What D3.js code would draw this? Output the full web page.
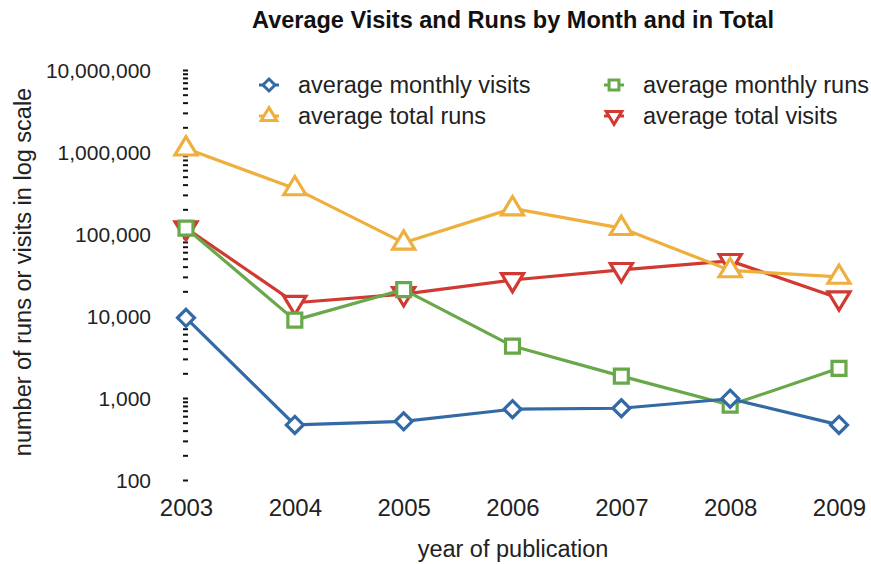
<!DOCTYPE html>
<html>
<head>
<meta charset="utf-8">
<script src="https://cdn.jsdelivr.net/npm/d3@7"></script>
<style>
  html, body { margin: 0; padding: 0; background: #fff; }
  svg { display: block; font-family: "Liberation Sans", Arial, Helvetica, sans-serif; }
</style>
</head>
<body>
<svg id="chart" width="871" height="564"></svg>
<script>
// Years of publication
const years = [2003, 2004, 2005, 2006, 2007, 2008, 2009];

// Series values per year
const monthlyVisits = [9500, 470, 520, 730, 750, 980, 470];
const monthlyRuns   = [118000, 8900, 21000, 4300, 1850, 820, 2300];
const totalRuns     = [1100000, 360000, 78000, 205000, 118000, 36000, 30000];
const totalVisits   = [118000, 14500, 18500, 27500, 36500, 47000, 16500];

// Major tick values on the log axis
const majorTicks = [100, 1000, 10000, 100000, 1000000, 10000000];

const titleText = "Average Visits and Runs by Month and in Total";
const xTitle = "year of publication";
const yTitle = "number of runs or visits in log scale";

// Series definitions in legend order
const series = [
  { name: "average monthly visits", values: monthlyVisits, color: "#336aa6", shape: "diamond" },
  { name: "average monthly runs",   values: monthlyRuns,   color: "#68a84a", shape: "square" },
  { name: "average total runs",     values: totalRuns,     color: "#eeaf3c", shape: "triUp" },
  { name: "average total visits",   values: totalVisits,   color: "#d03a32", shape: "triDown" }
];

const svg = d3.select("#chart");

const x = d3.scaleLinear().domain([2003, 2009]).range([186, 839]);
const y = d3.scaleLog().domain([100, 10000000]).range([480, 70]);

// Marker path generator, centred on origin
function markerPath(shape, s) {
  if (shape === "diamond") {
    return `M0,${-s}L${s},0L0,${s}L${-s},0Z`;
  } else if (shape === "square") {
    const h = s * 0.82;
    return `M${-h},${-h}H${h}V${h}H${-h}Z`;
  } else if (shape === "triUp") {
    const w = s * 1.3, hTop = s * 1.4, hBot = s * 0.75;
    return `M0,${-hTop}L${w},${hBot}L${-w},${hBot}Z`;
  } else {
    const w = s * 1.3, hTop = s * 1.4, hBot = s * 0.75;
    return `M0,${hTop}L${w},${-hBot}L${-w},${-hBot}Z`;
  }
}

// Title
svg.append("text")
  .attr("x", 513).attr("y", 28)
  .attr("text-anchor", "middle")
  .attr("font-size", 23.5).attr("font-weight", "bold")
  .attr("fill", "#111")
  .text(titleText);

// Y axis: dashes at every 1..9 multiple of each decade, labels on decades only
const allTicks = [];
for (let p = 2; p < 7; p++) {
  for (let m = 1; m < 10; m++) allTicks.push(m * Math.pow(10, p));
}
allTicks.push(10000000);

const yAxis = d3.axisLeft(y)
  .tickValues(allTicks)
  .tickSize(0)
  .tickPadding(0)
  .tickFormat(() => "");

const yAxisG = svg.append("g").call(yAxis);
yAxisG.select(".domain").remove();
yAxisG.selectAll(".tick line").remove();
yAxisG.selectAll(".tick").append("line")
  .attr("x1", 183).attr("x2", 188)
  .attr("y1", 0).attr("y2", 0)
  .attr("stroke", "#111").attr("stroke-width", 2);

svg.append("g").selectAll("text")
  .data(majorTicks)
  .join("text")
  .attr("x", 151)
  .attr("y", d => y(d))
  .attr("dy", "0.36em")
  .attr("text-anchor", "end")
  .attr("font-size", 21)
  .attr("fill", "#222")
  .text(d => d3.format(",")(d));

// X axis labels
const xAxis = d3.axisBottom(x)
  .tickValues(years)
  .tickSize(0)
  .tickPadding(0)
  .tickFormat(d3.format("d"));
const xAxisG = svg.append("g").attr("transform", "translate(0,516)").call(xAxis);
xAxisG.select(".domain").remove();
xAxisG.selectAll(".tick text")
  .attr("y", 0).attr("dy", 0)
  .attr("font-size", 24)
  .attr("font-family", "\"Liberation Sans\", Arial, sans-serif")
  .attr("fill", "#222");

// Axis titles
svg.append("text")
  .attr("x", 513).attr("y", 557)
  .attr("text-anchor", "middle")
  .attr("font-size", 23.5)
  .attr("fill", "#222")
  .text(xTitle);

svg.append("text")
  .attr("transform", "translate(31,272) rotate(-90)")
  .attr("text-anchor", "middle")
  .attr("font-size", 23.5)
  .attr("fill", "#222")
  .text(yTitle);

// Lines and markers, drawn so that the first legend entries end up on top
const line = d3.line()
  .x((d, i) => x(years[i]))
  .y(d => y(d));

const plot = svg.append("g");
series.slice().reverse().forEach(s => {
  const g = plot.append("g");
  g.append("path")
    .datum(s.values)
    .attr("d", line)
    .attr("fill", "none")
    .attr("stroke", s.color)
    .attr("stroke-width", 3.2)
    .attr("stroke-linejoin", "round");
  g.selectAll("path.mk")
    .data(s.values)
    .join("path")
    .attr("class", "mk")
    .attr("transform", (d, i) => `translate(${x(years[i])},${y(d)})`)
    .attr("d", markerPath(s.shape, 8.5))
    .attr("fill", "#fff")
    .attr("stroke", s.color)
    .attr("stroke-width", 3.2)
    .attr("stroke-linejoin", "miter");
});

// Legend
const legendPos = [
  { x: 269, y: 85 },
  { x: 614, y: 85 },
  { x: 269, y: 116 },
  { x: 614, y: 116 }
];
const legend = svg.append("g");
series.forEach((s, i) => {
  const p = legendPos[i];
  const g = legend.append("g").attr("transform", `translate(${p.x},${p.y})`);
  g.append("line")
    .attr("x1", -10).attr("x2", 10)
    .attr("stroke", s.color).attr("stroke-width", 3);
  g.append("path")
    .attr("d", markerPath(s.shape, 6))
    .attr("fill", "#fff")
    .attr("stroke", s.color)
    .attr("stroke-width", 3);
  g.append("text")
    .attr("x", 29).attr("dy", "0.36em")
    .attr("font-size", 23.5)
    .attr("fill", "#222")
    .text(s.name);
});
</script>
</body>
</html>
